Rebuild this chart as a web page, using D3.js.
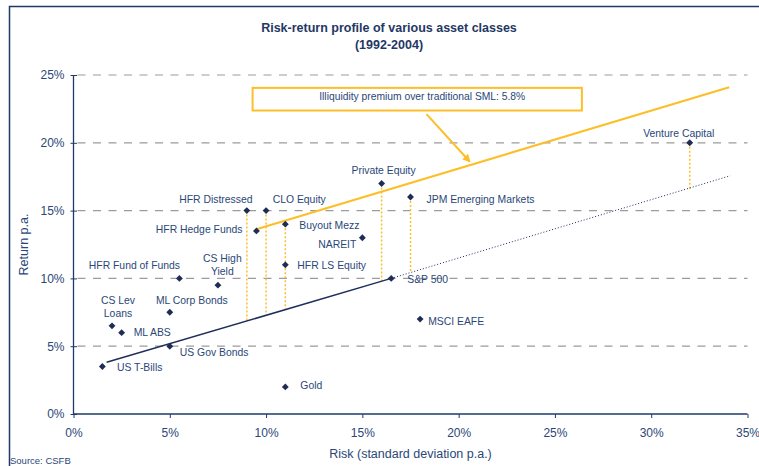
<!DOCTYPE html>
<html><head><meta charset="utf-8">
<script src="https://cdn.jsdelivr.net/npm/d3@7"></script>
<style>
html,body{margin:0;padding:0;background:#fff;}
svg{display:block;font-family:"Liberation Sans",Arial,sans-serif;}
</style></head>
<body><svg id="c" width="759" height="466"></svg>
<script>
// ---- data ----
const names = ["US T-Bills","US Gov Bonds","ML ABS","CS Lev Loans","ML Corp Bonds","HFR Fund of Funds","CS High Yield","HFR Distressed","CLO Equity","HFR Hedge Funds","Buyout Mezz","HFR LS Equity","NAREIT","Private Equity","JPM Emerging Markets","S&P 500","MSCI EAFE","Gold","Venture Capital"];
const risk = [1.5,5,2.5,2,5,5.5,7.5,9,10,9.5,11,11,15,16,17.5,16.5,18,11,32];
const ret  = [3.5,5,6,6.5,7.5,10,9.5,15,15,13.5,14,11,13,17,16,10,7,2,20];
// traditional SML (solid part, then dotted extension)
const smlSolidX = [1.72,16.5], smlSolidY = [3.81,10];
const smlDotX = [16.5,34.1], smlDotY = [10,17.57];
// illiquidity SML
const illiqX = [9.5,34.05], illiqY = [13.62,24.1];
// assets with premium drops to SML
const dropNames = ["HFR Distressed","CLO Equity","Buyout Mezz","Private Equity","JPM Emerging Markets","Venture Capital"];
const xTicks = [0,5,10,15,20,25,30,35];
const yTicks = [0,5,10,15,20,25];
const annotationText = "Illiquidity premium over traditional SML: 5.8%";

// ---- layout ----
const navy = "#1f3a68", textC = "#2a4778", yellow = "#fcbf2a", grid = "#9c9c9c";
const svg = d3.select("#c");
const x = d3.scaleLinear().domain([0,35]).range([73.5,747.5]);
const y = d3.scaleLinear().domain([0,25]).range([414,75]);
const smlAt = v => smlSolidY[0] + (v - smlSolidX[0]) * (smlSolidY[1]-smlSolidY[0])/(smlSolidX[1]-smlSolidX[0]);

// frame
svg.append("path").attr("d","M9.5,470 V6.5 H770").attr("fill","none").attr("stroke","#1f3a68").attr("stroke-width",1.5);

// titles
svg.append("text").attr("x",389).attr("y",31.5).attr("text-anchor","middle")
  .attr("font-weight","bold").attr("font-size",12.5).attr("fill","#1f3864").text("Risk-return profile of various asset classes");
svg.append("text").attr("x",389).attr("y",49).attr("text-anchor","middle")
  .attr("font-weight","bold").attr("font-size",12.5).attr("fill","#1f3864").text("(1992-2004)");

// gridlines
svg.append("g").selectAll("line").data(yTicks.filter(d=>d>0)).join("line")
  .attr("x1",x(0)+4).attr("x2",x(35)).attr("y1",d=>y(d)).attr("y2",d=>y(d))
  .attr("stroke",grid).attr("stroke-width",1.2).attr("stroke-dasharray","8,7.5");

// axes
const yAx = svg.append("g").attr("transform",`translate(${x(0)},0)`)
  .call(d3.axisLeft(y).tickValues(yTicks).tickFormat(d=>d+"%").tickSize(3).tickPadding(6));
const xAx = svg.append("g").attr("transform",`translate(0,${y(0)})`)
  .call(d3.axisBottom(x).tickValues(xTicks).tickFormat(d=>d+"%").tickSize(4).tickPadding(10));
[yAx,xAx].forEach(g=>{
  g.select(".domain").attr("stroke",navy).attr("stroke-width",1.3);
  g.selectAll(".tick line").attr("stroke",navy);
  g.selectAll(".tick text").attr("fill",textC).attr("font-size",12).attr("font-family","Liberation Sans, Arial, sans-serif");
});
yAx.select(".domain").attr("d",`M0,${y(25)}V${y(0)}`);
yAx.selectAll(".tick line").attr("x2",3.5).attr("x1",-3);
xAx.select(".domain").attr("d",`M${x(0)},0H${x(35)}`).attr("stroke-width",1.6);

// axis titles
svg.append("text").attr("transform",`translate(28,${(y(0)+y(25))/2}) rotate(-90)`).attr("text-anchor","middle")
  .attr("font-size",12.5).attr("fill",textC).text("Return p.a.");
svg.append("text").attr("x",(x(0)+x(35))/2).attr("y",458).attr("text-anchor","middle")
  .attr("font-size",12.5).attr("fill",textC).text("Risk (standard deviation p.a.)");
svg.append("text").attr("x",10).attr("y",464).attr("font-size",9.5).attr("fill",textC).text("Source: CSFB");

// premium drop lines
const idx = n => names.indexOf(n);
svg.append("g").selectAll("line").data(dropNames).join("line")
  .attr("x1",d=>x(risk[idx(d)])).attr("x2",d=>x(risk[idx(d)]))
  .attr("y1",d=>y(ret[idx(d)])).attr("y2",d=>y(smlAt(risk[idx(d)])))
  .attr("stroke",yellow).attr("stroke-width",1.5).attr("stroke-dasharray","2,2");

// SML
const ln = d3.line().x(d=>x(d[0])).y(d=>y(d[1]));
svg.append("path").attr("d",ln(d3.zip(smlSolidX,smlSolidY))).attr("stroke","#1f2d5c").attr("stroke-width",1.5).attr("fill","none");
svg.append("path").attr("d",ln(d3.zip(smlDotX,smlDotY))).attr("stroke","#1f2d5c").attr("stroke-width",1).attr("stroke-dasharray","1,2").attr("fill","none");
svg.append("path").attr("d",ln(d3.zip(illiqX,illiqY))).attr("stroke",yellow).attr("stroke-width",2.2).attr("fill","none");

// annotation box + arrow
svg.append("rect").attr("x",x(9.3)).attr("y",y(24.05)).attr("width",x(26.4)-x(9.3)).attr("height",y(22.38)-y(24.05))
  .attr("fill","#fff").attr("stroke",yellow).attr("stroke-width",2);
svg.append("text").attr("x",(x(9.3)+x(26.4))/2+5).attr("y",y(23.43)).attr("dy","0.35em").attr("text-anchor","middle")
  .attr("font-size",10.3).attr("fill",textC).text(annotationText);
svg.append("defs").append("marker").attr("id","ah").attr("viewBox","0 0 10 10").attr("refX",8).attr("refY",5)
  .attr("markerWidth",4).attr("markerHeight",4).attr("orient","auto")
  .append("path").attr("d","M0,0L10,5L0,10z").attr("fill",yellow);
svg.append("line").attr("x1",x(18.33)).attr("y1",y(22.12)).attr("x2",x(20.56)).attr("y2",y(18.64))
  .attr("stroke",yellow).attr("stroke-width",2).attr("marker-end","url(#ah)");

// points
const pts = names.map((n,i)=>({n, r:risk[i], v:ret[i]}));
svg.append("g").selectAll("path").data(pts).join("path")
  .attr("transform",d=>`translate(${x(d.r)},${y(d.v)})`)
  .attr("d",d3.symbol(d3.symbolDiamond2,30)).attr("fill","#1f2d55");

// labels (layout offsets)
const lab = {
  "US T-Bills":{dx:14.6,dy:[1],a:"start"},
  "US Gov Bonds":{dx:10,dy:[6],a:"start"},
  "ML ABS":{dx:12,dy:[0],a:"start"},
  "CS Lev Loans":{dx:6,dy:[-25.6,-12.6],a:"middle",lines:["CS Lev","Loans"]},
  "ML Corp Bonds":{dx:22,dy:[-12],a:"middle"},
  "HFR Fund of Funds":{dx:-45,dy:[-13],a:"middle"},
  "CS High Yield":{dx:4.4,dy:[-27,-14],a:"middle",lines:["CS High","Yield"]},
  "HFR Distressed":{dx:-31,dy:[-11.3],a:"middle"},
  "CLO Equity":{dx:6.6,dy:[-11.3],a:"start"},
  "HFR Hedge Funds":{dx:-14,dy:[-1.6],a:"end"},
  "Buyout Mezz":{dx:14,dy:[1.5],a:"start"},
  "HFR LS Equity":{dx:12,dy:[0.5],a:"start"},
  "NAREIT":{dx:-6,dy:[6.3],a:"end"},
  "Private Equity":{dx:2,dy:[-12.8],a:"middle"},
  "JPM Emerging Markets":{dx:16,dy:[2.3],a:"start"},
  "S&P 500":{dx:16,dy:[1],a:"start"},
  "MSCI EAFE":{dx:8,dy:[2],a:"start"},
  "Gold":{dx:15,dy:[-2],a:"start"},
  "Venture Capital":{dx:-11,dy:[-9],a:"middle"}
};
const lg = svg.append("g").attr("font-size",10.4).attr("fill",textC);
pts.forEach(p=>{
  const L = lab[p.n]; const lines = L.lines || [p.n];
  lines.forEach((t,k)=>{
    lg.append("text").attr("x",x(p.r)+L.dx).attr("y",y(p.v)+L.dy[k]).attr("dy","0.35em")
      .attr("text-anchor",L.a).text(t);
  });
});
</script></body></html>
